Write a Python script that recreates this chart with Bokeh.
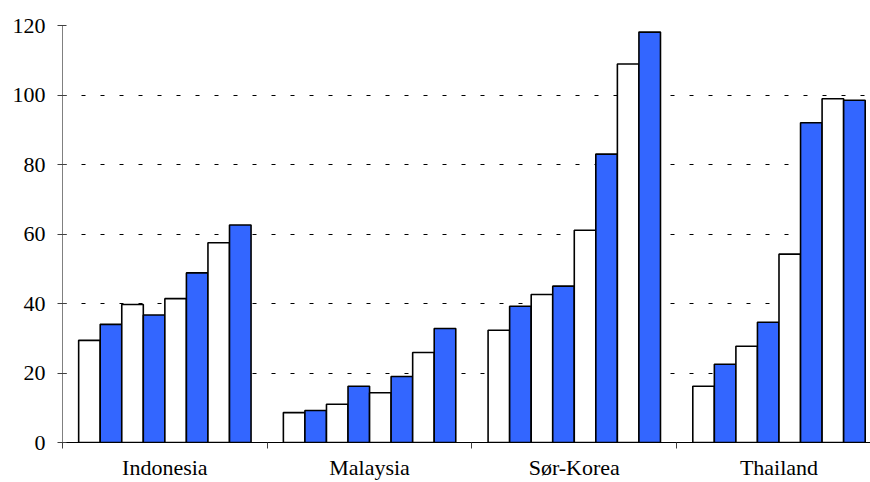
from bokeh.plotting import figure
from bokeh.models import ColumnDataSource, FixedTicker, Range1d
from bokeh.embed import file_html
from bokeh.resources import INLINE

categories = ["Indonesia", "Malaysia", "Sør-Korea", "Thailand"]
indonesia = [29.4, 34.0, 39.7, 36.7, 41.4, 48.8, 57.5, 62.6]
malaysia = [8.6, 9.2, 11.0, 16.2, 14.3, 19.0, 25.9, 32.8]
sor_korea = [32.3, 39.2, 42.6, 45.0, 61.1, 83.0, 108.9, 118.1]
thailand = [16.2, 22.5, 27.7, 34.6, 54.2, 92.0, 98.9, 98.5]
y_ticks = [0, 20, 40, 60, 80, 100, 120]

groups = [indonesia, malaysia, sor_korea, thailand]
n_series = 8
bar_w = 1.0 / (n_series + 1.5)

xs, tops, colors = [], [], []
for gi, vals in enumerate(groups):
    center = gi + 1
    for j, v in enumerate(vals):
        xs.append(center + (j - (n_series - 1) / 2) * bar_w)
        tops.append(v)
        colors.append("#FFFFFF" if j % 2 == 0 else "#3366FF")

src = ColumnDataSource(dict(x=xs, top=tops, color=colors))

FONT = "Liberation Serif"

p = figure(width=870, height=482, x_range=Range1d(0.5, 4.447), y_range=Range1d(0, 120),
           output_backend="svg", toolbar_location=None,
           min_border_left=62, min_border_right=0, min_border_top=25, min_border_bottom=40)
p.outline_line_color = None
p.background_fill_color = "white"
p.border_fill_color = "white"

p.xgrid.visible = False
p.ygrid.ticker = FixedTicker(ticks=y_ticks[1:])
p.ygrid.grid_line_color = "black"
p.ygrid.grid_line_dash = "4 15"
p.ygrid.grid_line_width = 1

p.vbar(x="x", top="top", bottom=0, width=bar_w, fill_color="color",
       line_color="black", line_width=1.6, source=src)

ya = p.yaxis[0]
ya.ticker = FixedTicker(ticks=y_ticks)
ya.axis_line_color = "#808080"
ya.axis_line_width = 1
ya.major_tick_in = 4
ya.major_tick_out = 5
ya.major_tick_line_color = "#404040"
ya.minor_tick_line_color = None
ya.major_label_standoff = 12
ya.major_label_text_font = FONT
ya.major_label_text_font_size = "22px"
ya.major_label_text_color = "black"

xa = p.xaxis[0]
xa.ticker = FixedTicker(ticks=[1, 2, 3, 4], minor_ticks=[0.5, 1.5, 2.5, 3.5, 4.5])
xa.major_label_overrides = {i + 1: c for i, c in enumerate(categories)}
xa.axis_line_color = "black"
xa.axis_line_width = 1
xa.major_tick_in = 0
xa.major_tick_out = 0
xa.minor_tick_in = 0
xa.minor_tick_out = 6
xa.minor_tick_line_color = "#404040"
xa.major_label_standoff = 6
xa.major_label_text_font = FONT
xa.major_label_text_font_size = "22px"
xa.major_label_text_color = "black"

open("out.html", "w").write(file_html(p, INLINE))
